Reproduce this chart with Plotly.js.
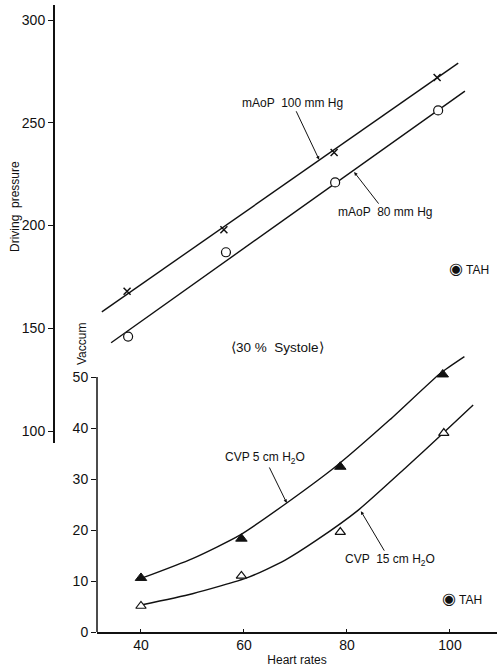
<!DOCTYPE html>
<html>
<head>
<meta charset="utf-8">
<script src="https://cdn.plot.ly/plotly-3.0.1.min.js"></script>
<style>html,body{margin:0;padding:0;background:#fff;}#chart{width:497px;height:670px;}</style>
</head>
<body>
<div id="chart"></div>
<script>
// Upper panel: driving pressure vs heart rate
var hr100 = [37.3, 56.1, 77.5, 97.5];
var press100 = [168, 198, 235.5, 272];
var hr80 = [37.5, 56.5, 77.7, 97.7];
var press80 = [146, 187, 221, 256];
var fit100X = [32.4, 101.6];
var fit100Y = [158, 279];
var fit80X = [34.2, 102.9];
var fit80Y = [143, 265.4];

// Lower panel: vacuum vs heart rate
var hrCvp5 = [40, 59.5, 78.7, 98.6];
var cvp5 = [10.6, 18.3, 32.4, 50.5];
var hrCvp15 = [40, 59.5, 78.7, 98.8];
var cvp15 = [5.1, 11, 19.6, 39];
var curve5X = [40, 50, 59.2, 68.3, 78, 88.3, 98.1, 102.8];
var curve5Y = [10.5, 14.4, 19.0, 25.3, 32.6, 41.6, 50.7, 54.0];
var curve15X = [40, 50, 60.8, 68, 74.1, 82.2, 91.6, 98.7, 104.5];
var curve15Y = [5.3, 7.5, 10.7, 14.1, 18.0, 23.9, 32.4, 39.0, 44.5];

var xTicks = [40, 60, 80, 100];
var pressTicks = [100, 150, 200, 250, 300];
var vacTicks = [0, 10, 20, 30, 40, 50];

var INK = '#111';
var lineStyle = {color: INK, width: 1.4};
var FONT = 'Liberation Sans, Arial, sans-serif';

var traces = [
  {x: fit100X, y: fit100Y, yaxis: 'y2', mode: 'lines', line: lineStyle, hoverinfo: 'skip'},
  {x: fit80X, y: fit80Y, yaxis: 'y2', mode: 'lines', line: lineStyle, hoverinfo: 'skip'},
  {x: curve5X, y: curve5Y, mode: 'lines', line: {color: INK, width: 1.4, shape: 'spline', smoothing: 0.6}, hoverinfo: 'skip'},
  {x: curve15X, y: curve15Y, mode: 'lines', line: {color: INK, width: 1.4, shape: 'spline', smoothing: 0.6}, hoverinfo: 'skip'},
  {x: hr100, y: press100, yaxis: 'y2', mode: 'markers', cliponaxis: false,
   marker: {symbol: 'x-thin-open', size: 7, color: INK, line: {color: INK, width: 1.5}}},
  {x: hr80, y: press80, yaxis: 'y2', mode: 'markers', cliponaxis: false,
   marker: {symbol: 'circle', size: 9, color: '#fff', line: {color: INK, width: 1.2}}},
  {x: hrCvp5, y: cvp5, mode: 'markers', cliponaxis: false,
   marker: {symbol: 'triangle-up', size: 10, color: INK, line: {color: INK, width: 1}}},
  {x: hrCvp15, y: cvp15, mode: 'markers', cliponaxis: false,
   marker: {symbol: 'triangle-up', size: 9, color: '#fff', line: {color: INK, width: 1.2}}}
];

var annFont = {family: FONT, size: 12, color: INK};
var arrowCommon = {showarrow: true, arrowhead: 2, arrowsize: 0.7, arrowwidth: 1, arrowcolor: INK, font: annFont};
var tah = '<span style="font-size:16px">◉</span> TAH';

var layout = {
  width: 497, height: 670,
  margin: {l: 53, r: 0, t: 5, b: 38},
  paper_bgcolor: '#fff', plot_bgcolor: 'rgba(0,0,0,0)',
  showlegend: false,
  font: {family: FONT, size: 14, color: INK},
  xaxis: {
    domain: [0.0991, 1], range: [31.46, 109.13], anchor: 'y',
    showline: true, linecolor: INK, linewidth: 1.5,
    tickvals: xTicks, ticks: 'inside', ticklen: 3, tickcolor: INK,
    showgrid: false, zeroline: false,
    tickfont: {family: FONT, size: 14},
    title: {text: 'Heart rates', font: {family: FONT, size: 12}, standoff: 3}
  },
  yaxis: {
    domain: [0, 0.4555], range: [0, 56], anchor: 'x',
    showline: false, tickvals: vacTicks, ticks: 'outside', ticklen: 5, tickcolor: INK,
    showgrid: false, zeroline: false,
    tickfont: {family: FONT, size: 14}
  },
  yaxis2: {
    domain: [0.3014, 1], range: [94.2, 307.3], anchor: 'free', position: 0,
    showline: true, linecolor: INK, linewidth: 1.5,
    tickvals: pressTicks, ticks: 'outside', ticklen: 5, tickcolor: INK,
    showgrid: false, zeroline: false,
    tickfont: {family: FONT, size: 14}
  },
  shapes: [
    {type: 'line', xref: 'x domain', yref: 'y', x0: 0, x1: 0, y0: 0, y1: 50,
     line: {color: INK, width: 1.5}}
  ],
  annotations: [
    Object.assign({x: 74.6, y: 232, xref: 'x', yref: 'y2', ax: -27, ay: -57, text: 'mAoP  100 mm Hg'}, arrowCommon),
    Object.assign({x: 81.4, y: 226, xref: 'x', yref: 'y2', ax: 31, ay: 40, text: 'mAoP  80 mm Hg'}, arrowCommon),
    Object.assign({x: 68.3, y: 25.3, xref: 'x', yref: 'y', ax: -22, ay: -45, text: 'CVP 5 cm H<sub>2</sub>O'}, arrowCommon),
    Object.assign({x: 82.7, y: 23.7, xref: 'x', yref: 'y', ax: 29, ay: 49, text: 'CVP  15 cm H<sub>2</sub>O'}, arrowCommon),
    {x: 66.6, y: 0.4530, xref: 'x', yref: 'paper', xanchor: 'center', yanchor: 'middle', text: '⟨30 %  Systole⟩', showarrow: false, font: {family: FONT, size: 13.5, color: INK}},
    {x: 103.7, y: 179.3, xref: 'x', yref: 'y2', xanchor: 'center', yanchor: 'middle', text: tah, showarrow: false, font: annFont},
    {x: 102.3, y: 6.5, xref: 'x', yref: 'y', xanchor: 'center', yanchor: 'middle', text: tah, showarrow: false, font: annFont},
    {x: -0.0856, y: 0.6794, xref: 'paper', yref: 'paper', xanchor: 'center', yanchor: 'middle', text: 'Driving  pressure', textangle: -90, showarrow: false, font: annFont},
    {x: 0.0653, y: 0.4593, xref: 'paper', yref: 'paper', xanchor: 'center', yanchor: 'middle', text: 'Vaccum', textangle: -90, showarrow: false, font: annFont}
  ]
};

Plotly.newPlot('chart', traces, layout, {displayModeBar: false, staticPlot: true});
</script>
</body>
</html>
